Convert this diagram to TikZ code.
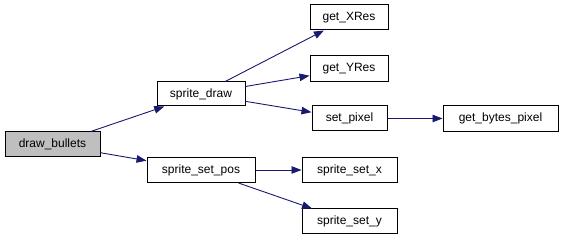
\documentclass[tikz,border=0pt]{standalone}
\usepackage{fontspec}
\setmainfont{Liberation Sans}
\usetikzlibrary{arrows.meta}
\definecolor{edgeblue}{HTML}{191970}
\definecolor{callergray}{HTML}{BFBFBF}
\begin{document}
\begin{tikzpicture}[x=1pt,y=-1pt,
	fn/.style={draw=black,line width=1pt,fill=white,inner sep=0pt,minimum height=25pt,font=\fontsize{12}{14}\selectfont},
	call/.style={edgeblue,line width=0.9pt,arrows=-{Triangle[length=10pt,width=7.5pt]}}]
	\useasboundingbox (0,0) rectangle (563,240);
	% Caller
	\node [fn,fill=callergray,minimum width=95pt] (drawbullets) at (52.5,144.5) {draw\_bullets};
	% First level
	\node [fn,minimum width=88pt,minimum height=24pt] (spritedraw) at (201,94) {sprite\_draw};
	\node [fn,minimum width=108pt] (spritesetpos) at (201,170) {sprite\_set\_pos};
	% Second level
	\node [fn,minimum width=78pt] (getxres) at (349,17.5) {get\_XRes};
	\node [fn,minimum width=78pt,minimum height=26pt] (getyres) at (349,69) {get\_YRes};
	\node [fn,minimum width=75pt] (setpixel) at (349.5,118.5) {set\_pixel};
	\node [fn,minimum width=95pt] (spritesetx) at (349.5,170) {sprite\_set\_x};
	\node [fn,minimum width=95pt] (spritesety) at (349.5,221.5) {sprite\_set\_y};
	% Third level
	\node [fn,minimum width=115pt,minimum height=26pt] (getbytespixel) at (500.5,118.5) {get\_bytes\_pixel};
	% Calls
	\draw [call] (drawbullets) -- (spritedraw);
	\draw [call] (drawbullets) -- (spritesetpos);
	\draw [call] (spritedraw) -- (getxres);
	\draw [call] (spritedraw) -- (getyres);
	\draw [call] (spritedraw) -- (setpixel);
	\draw [call] (setpixel) -- (getbytespixel);
	\draw [call] (spritesetpos) -- (spritesetx);
	\draw [call] (spritesetpos) -- (spritesety);
\end{tikzpicture}
\end{document}
